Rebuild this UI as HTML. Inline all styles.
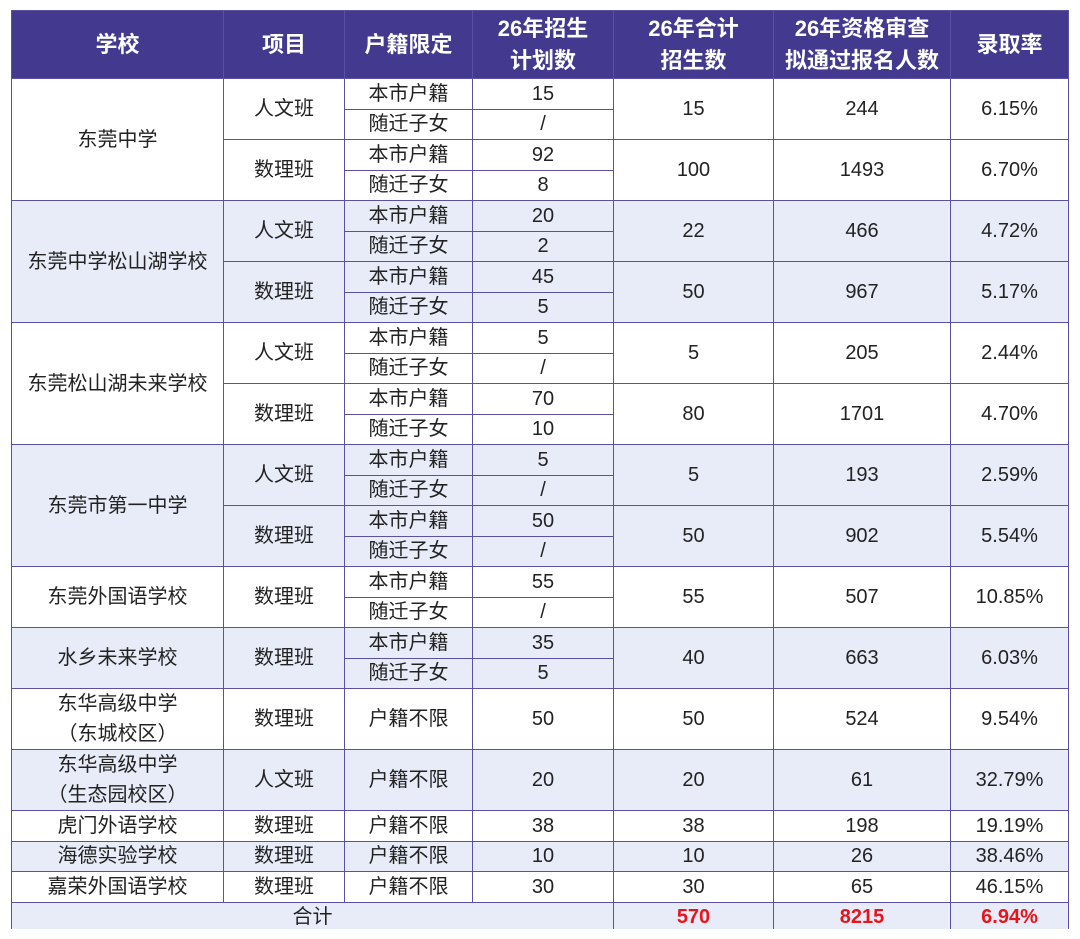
<!DOCTYPE html>
<html><head><meta charset="utf-8"><style>
body{margin:0;background:#fff;width:1080px;height:939px;overflow:hidden;position:relative;font-family:"Liberation Sans","Noto Sans CJK SC",sans-serif;}
table{position:absolute;left:11px;top:10px;border-collapse:collapse;table-layout:fixed;font-size:20px;color:#222;}
td,th{border:1.5px solid #5b50a3;text-align:center;padding:0;height:30.5px;line-height:24px;box-sizing:border-box;}
th{background:#433a8f;color:#fff;font-weight:bold;height:68px;font-size:22px;line-height:32px;}
.b td{background:#e8ecf8;}
.w td{background:#fff;}
.r{color:#e8141b;font-weight:bold;}
</style></head><body>
<table>
<colgroup><col style="width:212px"><col style="width:121px"><col style="width:128px"><col style="width:141px"><col style="width:160px"><col style="width:177px"><col style="width:118px"></colgroup>
<tr><th>学校</th><th>项目</th><th>户籍限定</th><th>26年招生<br>计划数</th><th>26年合计<br>招生数</th><th>26年资格审查<br>拟通过报名人数</th><th>录取率</th></tr>
<tbody class="w">
<tr><td rowspan="4">东莞中学</td><td rowspan="2">人文班</td><td>本市户籍</td><td>15</td><td rowspan="2">15</td><td rowspan="2">244</td><td rowspan="2">6.15%</td></tr>
<tr><td>随迁子女</td><td>/</td></tr>
<tr><td rowspan="2">数理班</td><td>本市户籍</td><td>92</td><td rowspan="2">100</td><td rowspan="2">1493</td><td rowspan="2">6.70%</td></tr>
<tr><td>随迁子女</td><td>8</td></tr></tbody>
<tbody class="b">
<tr><td rowspan="4">东莞中学松山湖学校</td><td rowspan="2">人文班</td><td>本市户籍</td><td>20</td><td rowspan="2">22</td><td rowspan="2">466</td><td rowspan="2">4.72%</td></tr>
<tr><td>随迁子女</td><td>2</td></tr>
<tr><td rowspan="2">数理班</td><td>本市户籍</td><td>45</td><td rowspan="2">50</td><td rowspan="2">967</td><td rowspan="2">5.17%</td></tr>
<tr><td>随迁子女</td><td>5</td></tr></tbody>
<tbody class="w">
<tr><td rowspan="4">东莞松山湖未来学校</td><td rowspan="2">人文班</td><td>本市户籍</td><td>5</td><td rowspan="2">5</td><td rowspan="2">205</td><td rowspan="2">2.44%</td></tr>
<tr><td>随迁子女</td><td>/</td></tr>
<tr><td rowspan="2">数理班</td><td>本市户籍</td><td>70</td><td rowspan="2">80</td><td rowspan="2">1701</td><td rowspan="2">4.70%</td></tr>
<tr><td>随迁子女</td><td>10</td></tr></tbody>
<tbody class="b">
<tr><td rowspan="4">东莞市第一中学</td><td rowspan="2">人文班</td><td>本市户籍</td><td>5</td><td rowspan="2">5</td><td rowspan="2">193</td><td rowspan="2">2.59%</td></tr>
<tr><td>随迁子女</td><td>/</td></tr>
<tr><td rowspan="2">数理班</td><td>本市户籍</td><td>50</td><td rowspan="2">50</td><td rowspan="2">902</td><td rowspan="2">5.54%</td></tr>
<tr><td>随迁子女</td><td>/</td></tr></tbody>
<tbody class="w">
<tr><td rowspan="2">东莞外国语学校</td><td rowspan="2">数理班</td><td>本市户籍</td><td>55</td><td rowspan="2">55</td><td rowspan="2">507</td><td rowspan="2">10.85%</td></tr>
<tr><td>随迁子女</td><td>/</td></tr></tbody>
<tbody class="b">
<tr><td rowspan="2">水乡未来学校</td><td rowspan="2">数理班</td><td>本市户籍</td><td>35</td><td rowspan="2">40</td><td rowspan="2">663</td><td rowspan="2">6.03%</td></tr>
<tr><td>随迁子女</td><td>5</td></tr></tbody>
<tbody class="w">
<tr style="height:61px"><td style="line-height:30px">东华高级中学<br>（东城校区）</td><td>数理班</td><td>户籍不限</td><td>50</td><td>50</td><td>524</td><td>9.54%</td></tr></tbody>
<tbody class="b">
<tr style="height:61px"><td style="line-height:30px">东华高级中学<br>（生态园校区）</td><td>人文班</td><td>户籍不限</td><td>20</td><td>20</td><td>61</td><td>32.79%</td></tr></tbody>
<tbody class="w">
<tr><td>虎门外语学校</td><td>数理班</td><td>户籍不限</td><td>38</td><td>38</td><td>198</td><td>19.19%</td></tr></tbody>
<tbody class="b">
<tr><td>海德实验学校</td><td>数理班</td><td>户籍不限</td><td>10</td><td>10</td><td>26</td><td>38.46%</td></tr></tbody>
<tbody class="w">
<tr><td>嘉荣外国语学校</td><td>数理班</td><td>户籍不限</td><td>30</td><td>30</td><td>65</td><td>46.15%</td></tr></tbody>
<tbody class="b">
<tr><td colspan="4">合计</td><td class="r">570</td><td class="r">8215</td><td class="r">6.94%</td></tr></tbody>
</table>
<div style="position:absolute;left:0;top:929px;width:1080px;height:10px;background:#fff"></div>
</body></html>
